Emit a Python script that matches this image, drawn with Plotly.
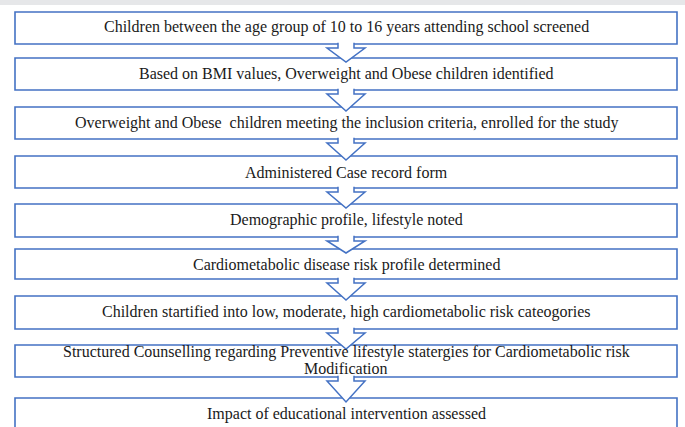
import plotly.graph_objects as go

# Flowchart steps (text content)
steps = [
    "Children between the age group of 10 to 16 years attending school screened",
    "Based on BMI values, Overweight and Obese children identified",
    "Overweight and Obese  children meeting the inclusion criteria, enrolled for the study",
    "Administered Case record form",
    "Demographic profile, lifestyle noted",
    "Cardiometabolic disease risk profile determined",
    "Children startified into low, moderate, high cardiometabolic risk cateogories",
    "Structured Counselling regarding Preventive lifestyle statergies for Cardiometabolic risk\nModification",
    "Impact of educational intervention assessed",
]

# Layout geometry (pixel space of the 685x427 canvas)
box_tops = [12, 58, 107, 156, 204, 249, 296, 345, 398]
box_bottoms = [44, 90, 139, 188, 237, 279, 329, 377, 432]
text_y = [27, 74, 123, 172, 220, 265, 312, None, 414]
X0, X1 = 15, 677
XC = (X0 + X1) / 2
W, H = 685, 427
BLUE = "#4472c4"
FONT = "'Times New Roman', 'Liberation Serif', serif"

fig = go.Figure()
shapes = []
annotations = []

# top grey band
shapes.append(dict(type="rect", xref="x", yref="y", x0=0, x1=W, y0=0, y1=5,
                   fillcolor="#e6e7e9", line=dict(width=0), layer="below"))

for t, b in zip(box_tops, box_bottoms):
    shapes.append(dict(type="rect", xref="x", yref="y", x0=X0, x1=X1, y0=t, y1=b,
                       fillcolor="white", line=dict(color=BLUE, width=1.6)))

# hollow block arrows between consecutive boxes
SH, HW = 8, 19
for i in range(len(box_tops) - 1):
    yb = box_bottoms[i]
    yw = yb + 4
    tip = box_tops[i + 1] + 4
    path = (f"M {XC - SH},{yb - 1.2} L {XC - SH},{yw} L {XC - HW},{yw} "
            f"L {XC},{tip} L {XC + HW},{yw} L {XC + SH},{yw} L {XC + SH},{yb - 1.2}")
    shapes.append(dict(type="path", xref="x", yref="y", path=path,
                       fillcolor="white", line=dict(color=BLUE, width=1.5)))

for i, label in enumerate(steps):
    lines = label.split("\n")
    if len(lines) == 1:
        annotations.append(dict(x=XC, y=text_y[i], xref="x", yref="y", text=lines[0],
                                showarrow=False, xanchor="center", yanchor="middle",
                                font=dict(family=FONT, size=16, color="#1a1a1a")))
    else:
        for k, ln in enumerate(lines):
            annotations.append(dict(x=XC, y=352 + k * 16.5, xref="x", yref="y", text=ln,
                                    showarrow=False, xanchor="center", yanchor="middle",
                                    font=dict(family=FONT, size=16, color="#1a1a1a")))

fig.update_layout(
    width=W, height=H,
    margin=dict(l=0, r=0, t=0, b=0),
    paper_bgcolor="white", plot_bgcolor="white",
    xaxis=dict(range=[0, W], visible=False, fixedrange=True),
    yaxis=dict(range=[H, 0], visible=False, fixedrange=True),
    shapes=shapes, annotations=annotations, showlegend=False,
)

fig.write_html("out.html", config={"displayModeBar": False},
               post_script="document.body.style.margin='0';document.body.style.overflow='hidden';")
